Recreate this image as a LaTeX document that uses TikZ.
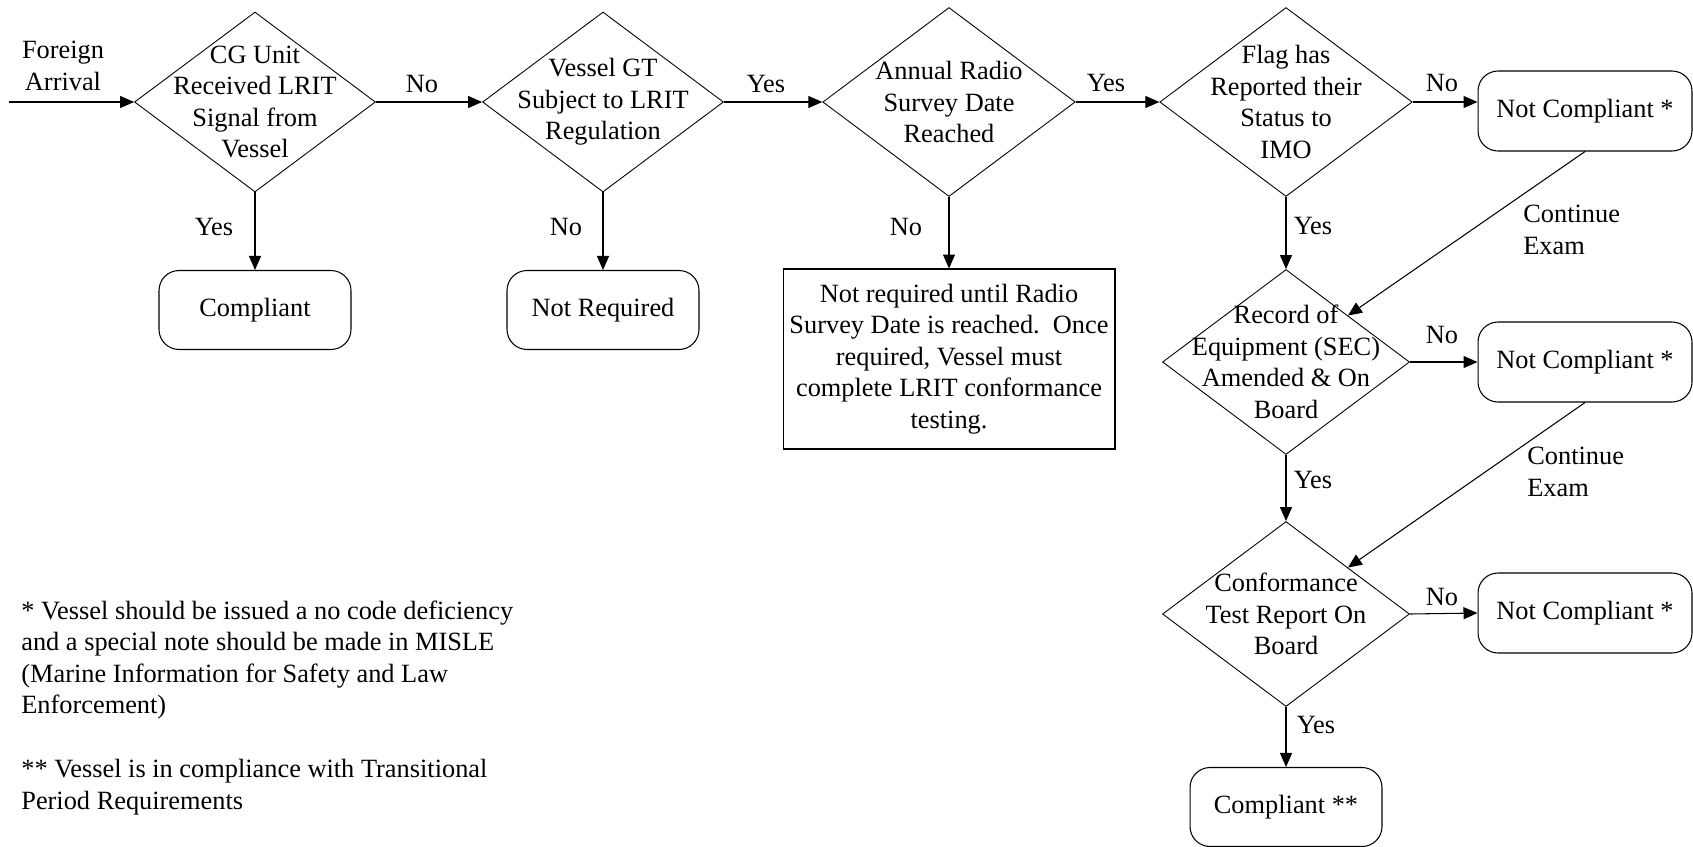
\documentclass[tikz,border=0pt]{standalone}
\usepackage{fontspec}
\setmainfont{Liberation Serif}
\usetikzlibrary{positioning, shapes.geometric, arrows.meta}

\begin{document}
\begin{tikzpicture}[
  x=0.02cm, y=-0.02cm,
  every node/.style={font=\fontsize{15}{18}\selectfont},
  % Decision Nodes (Diamonds)
  decision/.style={diamond, draw, line width=0.5pt, inner sep=0pt, minimum width=4.82cm, minimum height=3.6cm},
  bigDecision/.style={decision, minimum width=5.05cm, minimum height=3.78cm},
  dtext/.style={align=center, inner sep=0pt},
  % End Nodes (Rounded Boxes)
  endState/.style={rectangle, rounded corners=0.4cm, draw, line width=0.6pt, minimum width=3.84cm, minimum height=1.58cm},
  notCompliant/.style={endState, minimum width=4.28cm, minimum height=1.6cm},
  infoBox/.style={rectangle, draw, line width=0.6pt, align=center, minimum width=6.64cm, minimum height=3.6cm},
  % Labels and Connectors
  edgeLabel/.style={inner sep=1pt},
  note/.style={align=left, anchor=west, inner sep=0pt},
  flow/.style={-{Triangle[length=0.28cm, width=0.24cm]}, line width=0.6pt}
  ]
  \useasboundingbox (0,0) rectangle (1693,846);

  % --- Start ---
  \coordinate (start) at (9,102);
  \node[align=center] (arrival) at (63,66) {Foreign\\Arrival};

  % --- Decision Nodes ---
  \node[decision] (cgunit) at (255,102) {};
  \node[dtext] (cgunitTxt) at (cgunit) {CG Unit\\Received LRIT\\Signal from\\Vessel};

  \node[decision] (vesselgt) at (603,102) {};
  \node[dtext] (vesselgtTxt) at (vesselgt) {Vessel GT\\Subject to LRIT\\Regulation};

  \node[bigDecision] (radio) at (949,102) {};
  \node[dtext] (radioTxt) at (radio) {Annual Radio\\Survey Date\\Reached};

  \node[bigDecision] (flag) at (1286,102) {};
  \node[dtext] (flagTxt) at (flag) {Flag has\\Reported their\\Status to\\IMO};

  \node[decision, minimum width=4.94cm, minimum height=3.7cm] (record) at (1286,362) {};
  \node[dtext] (recordTxt) at (record) {Record of\\Equipment (SEC)\\Amended \& On\\Board};

  \node[decision, minimum width=4.94cm, minimum height=3.7cm] (conform) at (1286,614) {};
  \node[dtext] (conformTxt) at (conform) {Conformance\\Test Report On\\Board};

  % --- End Nodes ---
  \node[endState] (compliantA) at (255,310) {Compliant};
  \node[endState] (notRequired) at (603,310) {Not Required};
  \node[infoBox] (untilSurvey) at (949,359)
  {Not required until Radio\\Survey Date is reached.\ \ Once\\required, Vessel must\\complete LRIT conformance\\testing.};

  \node[notCompliant] (ncFlag) at (1585,111) {Not Compliant *};
  \node[notCompliant] (ncRecord) at (1585,362) {Not Compliant *};
  \node[notCompliant] (ncConform) at (1585,613) {Not Compliant *};
  \node[endState] (compliantB) at (1286,807) {Compliant **};

  % --- Top Row ---
  \draw[flow] (start) -- (cgunit.west);
  \draw[flow] (cgunit.east) -- (vesselgt.west);
  \node[edgeLabel] (noA) at (422,84) {No};
  \draw[flow] (vesselgt.east) -- (radio.west);
  \node[edgeLabel] (yesB) at (766,84) {Yes};
  \draw[flow] (radio.east) -- (flag.west);
  \node[edgeLabel] (yesC) at (1106,83) {Yes};
  \draw[flow] (flag.east) -- (flag.east -| ncFlag.west);
  \node[edgeLabel] (noD) at (1442,83) {No};

  % --- Downward Branches ---
  \draw[flow] (cgunit.south) -- (compliantA.north);
  \node[edgeLabel] (yesA) at (214,227) {Yes};
  \draw[flow] (vesselgt.south) -- (notRequired.north);
  \node[edgeLabel] (noB) at (566,227) {No};
  \draw[flow] (radio.south) -- (untilSurvey.north);
  \node[edgeLabel] (noC) at (906,227) {No};

  % --- Right Column ---
  \draw[flow] (flag.south) -- (record.north);
  \node[edgeLabel] (yesD) at (1313,226) {Yes};
  \draw[flow] (record.east) -- (ncRecord.west);
  \node[edgeLabel] (noE) at (1442,335) {No};
  \draw[flow] (record.south) -- (conform.north);
  \node[edgeLabel] (yesE) at (1313,480) {Yes};
  \draw[flow] (conform.east) -- (ncConform.west);
  \node[edgeLabel] (noF) at (1442,597) {No};
  \draw[flow] (conform.south) -- (compliantB.north);
  \node[edgeLabel] (yesF) at (1316,725) {Yes};

  % Continue Exam loops
  \draw[flow] (ncFlag.south) -- (record.north east);
  \node[note] (contA) at (1523,230) {Continue\\Exam};
  \draw[flow] (ncRecord.south) -- (conform.north east);
  \node[note] (contB) at (1527,472) {Continue\\Exam};

  % --- Footnotes ---
  \node[note] (noteA) at (21,660) {* Vessel should be issued a no code deficiency\\and a special note should be made in MISLE\\(Marine Information for Safety and Law\\Enforcement)};
  \node[note] (noteB) at (21,787) {** Vessel is in compliance with Transitional\\Period Requirements};

\end{tikzpicture}
\end{document}
